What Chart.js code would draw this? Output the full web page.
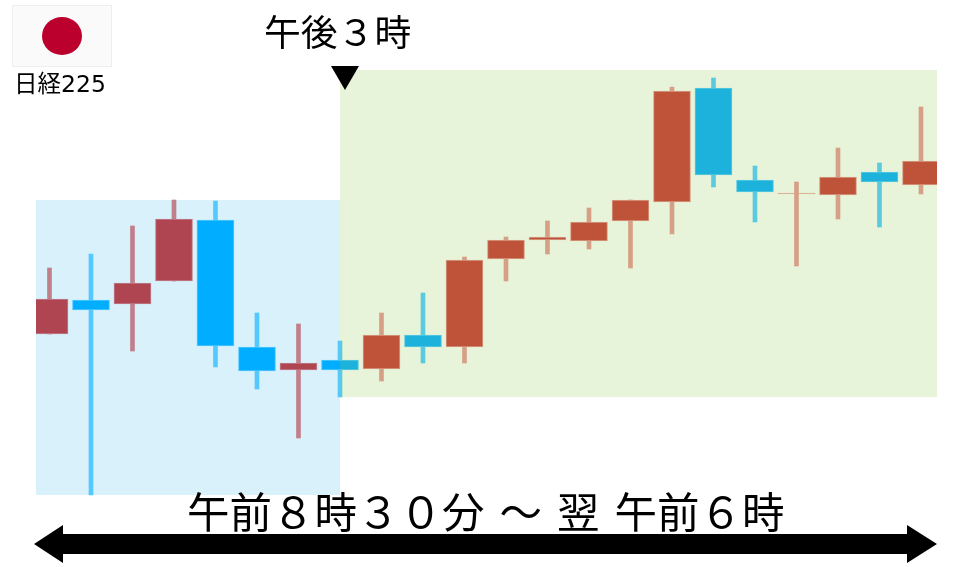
<!DOCTYPE html>
<html lang="ja">
<head>
<meta charset="utf-8">
<title>日経225</title>
<script src="https://cdn.jsdelivr.net/npm/chart.js@4"></script>
<style>
    body { margin: 0; background: #fff; width: 960px; height: 567px; overflow: hidden; position: relative; }
    canvas { position: absolute; left: 0; top: 0; }
    .label { position: absolute; white-space: pre; color: #000; font-family: "Noto Sans CJK JP", sans-serif; line-height: 1; }
    #flag { position: absolute; left: 12px; top: 5px; width: 98px; height: 60px; background: #fafafa; border: 1px solid #eee; }
    #flag div { position: absolute; left: 29px; top: 11px; width: 40px; height: 38px; border-radius: 50%; background: #bc002d; }
    #index-name { left: 14px; top: 73px; font-size: 23.5px; font-family: "DejaVu Sans", "Noto Sans CJK JP", sans-serif; }
    #close-time { left: 264px; top: 12px; font-size: 36.8px; }
    #session-time { left: 187px; top: 489px; font-size: 42.5px; word-spacing: 5.5px; }
</style>
</head>
<body>
<canvas id="chart" width="960" height="567"></canvas>
<div id="flag"><div></div></div>
<div class="label" id="index-name">日経225</div>
<div class="label" id="close-time">午後３時</div>
<div class="label" id="session-time">午前８時３０分 〜 翌 午前６時</div>
<script>
const candles = [0, 1, 2, 3, 4, 5, 6, 7, 8, 9, 10, 11, 12, 13, 14, 15, 16, 17, 18, 19, 20, 21];
const opens = [233, 267, 263, 286, 347, 220, 197, 207, 198, 232, 220, 308, 327, 326, 346, 365, 479, 387, 373, 372, 395, 382];
const closes = [268, 257, 284, 348, 221, 196, 204, 197, 232, 220, 307, 327, 330, 345, 367, 476, 392, 375, 374, 390, 385, 406];
const highs = [299, 313, 341, 367, 366, 254, 243, 226, 254, 274, 310, 330, 346, 359, 367, 480, 489, 401, 385, 419, 404, 460];
const lows = [233, 72, 216, 286, 200, 178, 129, 170, 186, 204, 204, 286, 313, 318, 299, 333, 380, 345, 301, 348, 340, 373];

// sessions, in candle numbers and chart values
const sessionStart = [-0.325, 7];
const sessionEnd = [7, 21.386];
const sessionHigh = [367, 497];
const sessionLow = [72, 170];
const sessionColors = ['#d8f1fb', '#e8f4da'];

const closeCandle = 7;
const bodyColors = { up: ['#ae4550', '#bf5339'], down: ['#00adff', '#1db2dc'] };
const wickColors = { up: ['#c17f8c', '#d6a086'], down: ['#55c8ff', '#5ccade'] };

// one colour left of the close, another right of it
function sessionPaint(chart, colors) {
    const area = chart.chartArea;
    if (!area) return colors[0];
    const stop = (chart.scales.x.getPixelForValue(closeCandle) - area.left) / (area.right - area.left);
    const grad = chart.ctx.createLinearGradient(area.left, 0, area.right, 0);
    grad.addColorStop(0, colors[0]);
    grad.addColorStop(stop, colors[0]);
    grad.addColorStop(stop, colors[1]);
    grad.addColorStop(1, colors[1]);
    return grad;
}

function direction(i) {
    return closes[i] >= opens[i] ? 'up' : 'down';
}

const sessionBands = {
    id: 'sessionBands',
    beforeDatasetsDraw(chart) {
        const { ctx, scales: { x, y } } = chart;
        sessionStart.forEach((start, i) => {
            const left = x.getPixelForValue(start);
            const top = y.getPixelForValue(sessionHigh[i]);
            ctx.fillStyle = sessionColors[i];
            ctx.fillRect(left, top, x.getPixelForValue(sessionEnd[i]) - left, y.getPixelForValue(sessionLow[i]) - top);
        });
    }
};

const markers = {
    id: 'markers',
    afterDraw(chart) {
        const { ctx, chartArea } = chart;
        const tipX = chart.scales.x.getPixelForValue(closeCandle) + 5;
        ctx.fillStyle = '#000';

        // close marker
        ctx.beginPath();
        ctx.moveTo(tipX - 14, 66);
        ctx.lineTo(tipX + 14, 66);
        ctx.lineTo(tipX, 90);
        ctx.closePath();
        ctx.fill();

        // session arrow
        const left = chartArea.left - 2;
        const right = chartArea.right;
        ctx.beginPath();
        ctx.moveTo(left, 544);
        ctx.lineTo(left + 29, 525);
        ctx.lineTo(left + 29, 534);
        ctx.lineTo(right - 30, 534);
        ctx.lineTo(right - 30, 525);
        ctx.lineTo(right, 544);
        ctx.lineTo(right - 30, 563);
        ctx.lineTo(right - 30, 554);
        ctx.lineTo(left + 29, 554);
        ctx.lineTo(left + 29, 563);
        ctx.closePath();
        ctx.fill();
    }
};

new Chart(document.getElementById('chart').getContext('2d'), {
    type: 'bar',
    plugins: [sessionBands, markers],
    data: {
        datasets: [
            {
                label: 'wick',
                order: 2,
                barThickness: 4,
                data: candles.map(i => ({ x: i, y: [lows[i], highs[i]] })),
                backgroundColor: c => sessionPaint(c.chart, wickColors[direction(c.dataIndex)])
            },
            {
                label: 'body',
                order: 1,
                barThickness: 37,
                borderWidth: 1,
                borderSkipped: false,
                data: candles.map(i => ({ x: i, y: [opens[i], closes[i]] })),
                backgroundColor: c => {
                    const i = c.dataIndex;
                    const colors = Math.abs(closes[i] - opens[i]) < 2 ? wickColors : bodyColors;
                    return sessionPaint(c.chart, colors[direction(i)]);
                },
                borderColor: c => sessionPaint(c.chart, wickColors[direction(c.dataIndex)])
            }
        ]
    },
    options: {
        responsive: false,
        animation: false,
        layout: { padding: { left: 36, right: 23, top: 0, bottom: 0 } },
        plugins: { legend: { display: false }, tooltip: { enabled: false } },
        scales: {
            x: { type: 'linear', display: false, offset: false, min: sessionStart[0], max: sessionEnd[1], grid: { display: false } },
            y: { display: false, min: 0, max: 567, grid: { display: false } }
        },
        datasets: { bar: { grouped: false } }
    }
});
</script>
</body>
</html>
